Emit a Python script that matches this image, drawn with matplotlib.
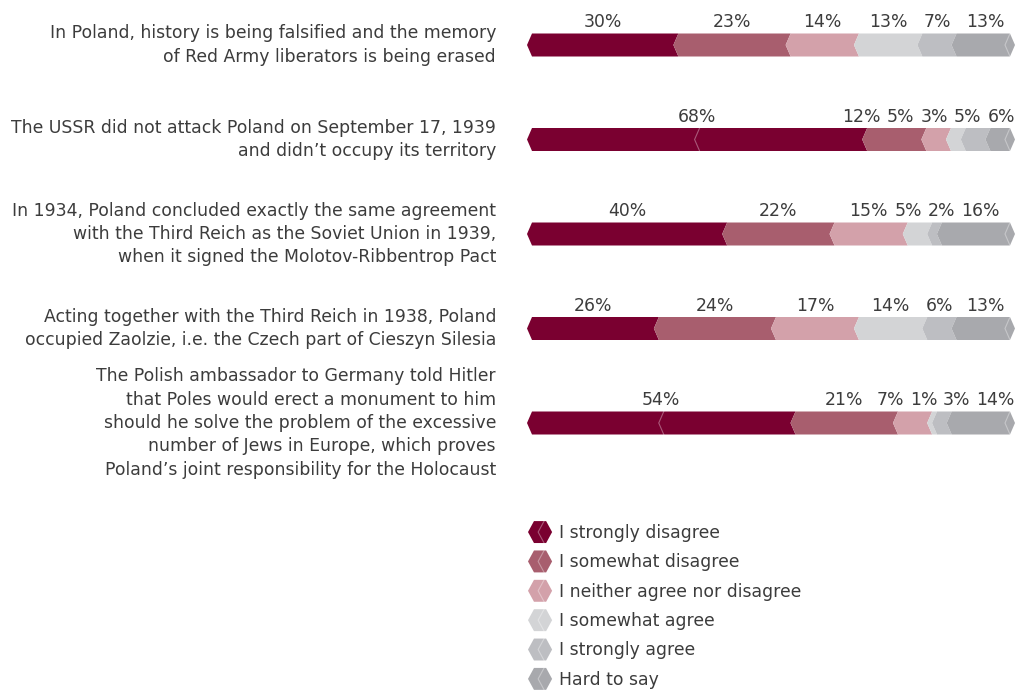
import matplotlib.pyplot as plt
from matplotlib.patches import Polygon
from matplotlib.lines import Line2D
from matplotlib.legend_handler import HandlerBase
import numpy as np

plt.rcParams['font.family'] = ['DejaVu Sans']

# --- data ---
statements = [
    "In Poland, history is being falsified and the memory\nof Red Army liberators is being erased",
    "The USSR did not attack Poland on September 17, 1939\nand didn\u2019t occupy its territory",
    "In 1934, Poland concluded exactly the same agreement\nwith the Third Reich as the Soviet Union in 1939,\nwhen it signed the Molotov-Ribbentrop Pact",
    "Acting together with the Third Reich in 1938, Poland\noccupied Zaolzie, i.e. the Czech part of Cieszyn Silesia",
    "The Polish ambassador to Germany told Hitler\nthat Poles would erect a monument to him\nshould he solve the problem of the excessive\nnumber of Jews in Europe, which proves\nPoland\u2019s joint responsibility for the Holocaust",
]
answers = ["I strongly disagree", "I somewhat disagree", "I neither agree nor disagree",
           "I somewhat agree", "I strongly agree", "Hard to say"]
values = np.array([
    [30, 23, 14, 13, 7, 13],
    [68, 12, 5, 3, 5, 6],
    [40, 22, 15, 5, 2, 16],
    [26, 24, 17, 14, 6, 13],
    [54, 21, 7, 1, 3, 14],
])
colors = ['#7a0030', '#a85e6e', '#d3a1aa', '#d3d4d6', '#bdbec2', '#a8a9ad']
text_color = '#3c3c3c'

W, H = 1019, 691
fig = plt.figure(figsize=(W / 100, H / 100), dpi=100)

# bar area in pixels: x 527..1015, category centers 45 + 94.5*i
px_per_row = 94.5
px_per_pct = 4.88
ax_top, ax_bot = 0, 470
ax = fig.add_axes([527 / W, 1 - ax_bot / H, 488 / W, (ax_bot - ax_top) / H])
ax.set_xlim(0, 100)
ax.set_ylim((ax_bot - 45) / px_per_row, (ax_top - 45) / px_per_row)
ax.axis('off')

bar_h = 23 / px_per_row
d = 5 / px_per_pct  # chevron depth in data units
fs = 12.4
renderer = fig.canvas.get_renderer()


def seg_poly(x0, x1, y, last):
    t, b = y - bar_h / 2, y + bar_h / 2
    if last:
        return [(x0, y), (x0 + d, t), (x1 - d, t), (x1, y), (x1 - d, b), (x0 + d, b)]
    return [(x0, y), (x0 + d, t), (x1 + d, t), (x1, y), (x1 + d, b), (x0 + d, b)]


def chevron(x, y, color):
    t, b = y - bar_h / 2, y + bar_h / 2
    ax.plot([x + d, x, x + d], [t, y, b], color=color, lw=0.8, alpha=0.35,
            solid_joinstyle='miter', zorder=3)


def spread(centers, widths, gap, right):
    # push overlapping value labels apart, keep them inside the bar
    c = np.array(centers, dtype=float)
    for _ in range(200):
        moved = False
        for j in range(len(c) - 1):
            need = (widths[j] + widths[j + 1]) / 2 + gap
            if c[j + 1] - c[j] < need - 1e-6:
                push = (need - (c[j + 1] - c[j])) / 2
                c[j] -= push
                c[j + 1] += push
                moved = True
        lim = right - widths[-1] / 2
        if c[-1] > lim:
            c[-1] = lim
        if not moved:
            break
    return c


for i, row in enumerate(values):
    shares = row / row.sum() * 100
    edges = np.concatenate([[0], np.cumsum(shares)])
    texts, centers, widths = [], [], []
    for j, v in enumerate(row):
        x0, x1 = edges[j], edges[j + 1]
        last = j == len(row) - 1
        ax.add_patch(Polygon(seg_poly(x0, x1, i, last), closed=True,
                             facecolor=colors[j], edgecolor='none', zorder=2))
        if v > 50:
            chevron((x0 + x1) / 2, i, 'white')
        if last:
            chevron(x1 - 2 * d, i, 'white')
        t = ax.text((x0 + x1) / 2 + d / 2, i - 0.243, f"{v}%", ha='center', va='center',
                    fontsize=fs, color=text_color)
        texts.append(t)
        centers.append((x0 + x1) / 2 + d / 2)
        widths.append(t.get_window_extent(renderer).width / px_per_pct)
    new_c = spread(centers, widths, 6 / px_per_pct, 100)
    for t, c in zip(texts, new_c):
        t.set_x(c)
    ax.text(-31 / px_per_pct, i, statements[i], ha='right', va='center', fontsize=fs,
            color=text_color, linespacing=1.38, clip_on=False)


class HexHandler(HandlerBase):
    def create_artists(self, legend, orig_handle, xdescent, ydescent, width, height,
                       fontsize, trans):
        # handle box is in points; 1 pt = 100/72 px
        cy = height / 2 - ydescent
        x0 = -xdescent
        hw = width
        k = 4.3
        hh = 7.9
        pts = [(x0, cy), (x0 + k, cy + hh), (x0 + hw - k, cy + hh),
               (x0 + hw, cy), (x0 + hw - k, cy - hh), (x0 + k, cy - hh)]
        p = Polygon(pts, closed=True, facecolor=orig_handle.get_color(),
                    edgecolor='none', transform=trans)
        cx = x0 + hw * 0.42
        ln = Line2D([cx + k, cx, cx + k], [cy + hh, cy, cy - hh],
                    color='white', lw=0.8, alpha=0.35, transform=trans)
        return [p, ln]


handles = [Line2D([], [], color=c) for c in colors]
fig.legend(handles, answers, handler_map={Line2D: HexHandler()},
           loc='upper left', bbox_to_anchor=(528 / W, 1 - 524 / H),
           bbox_transform=fig.transFigure, frameon=False, fontsize=fs,
           labelcolor=text_color, handlelength=1.4, handleheight=0.9,
           handletextpad=0.4, labelspacing=0.66, borderpad=0, borderaxespad=0)

fig.savefig('out.png', dpi=100)
